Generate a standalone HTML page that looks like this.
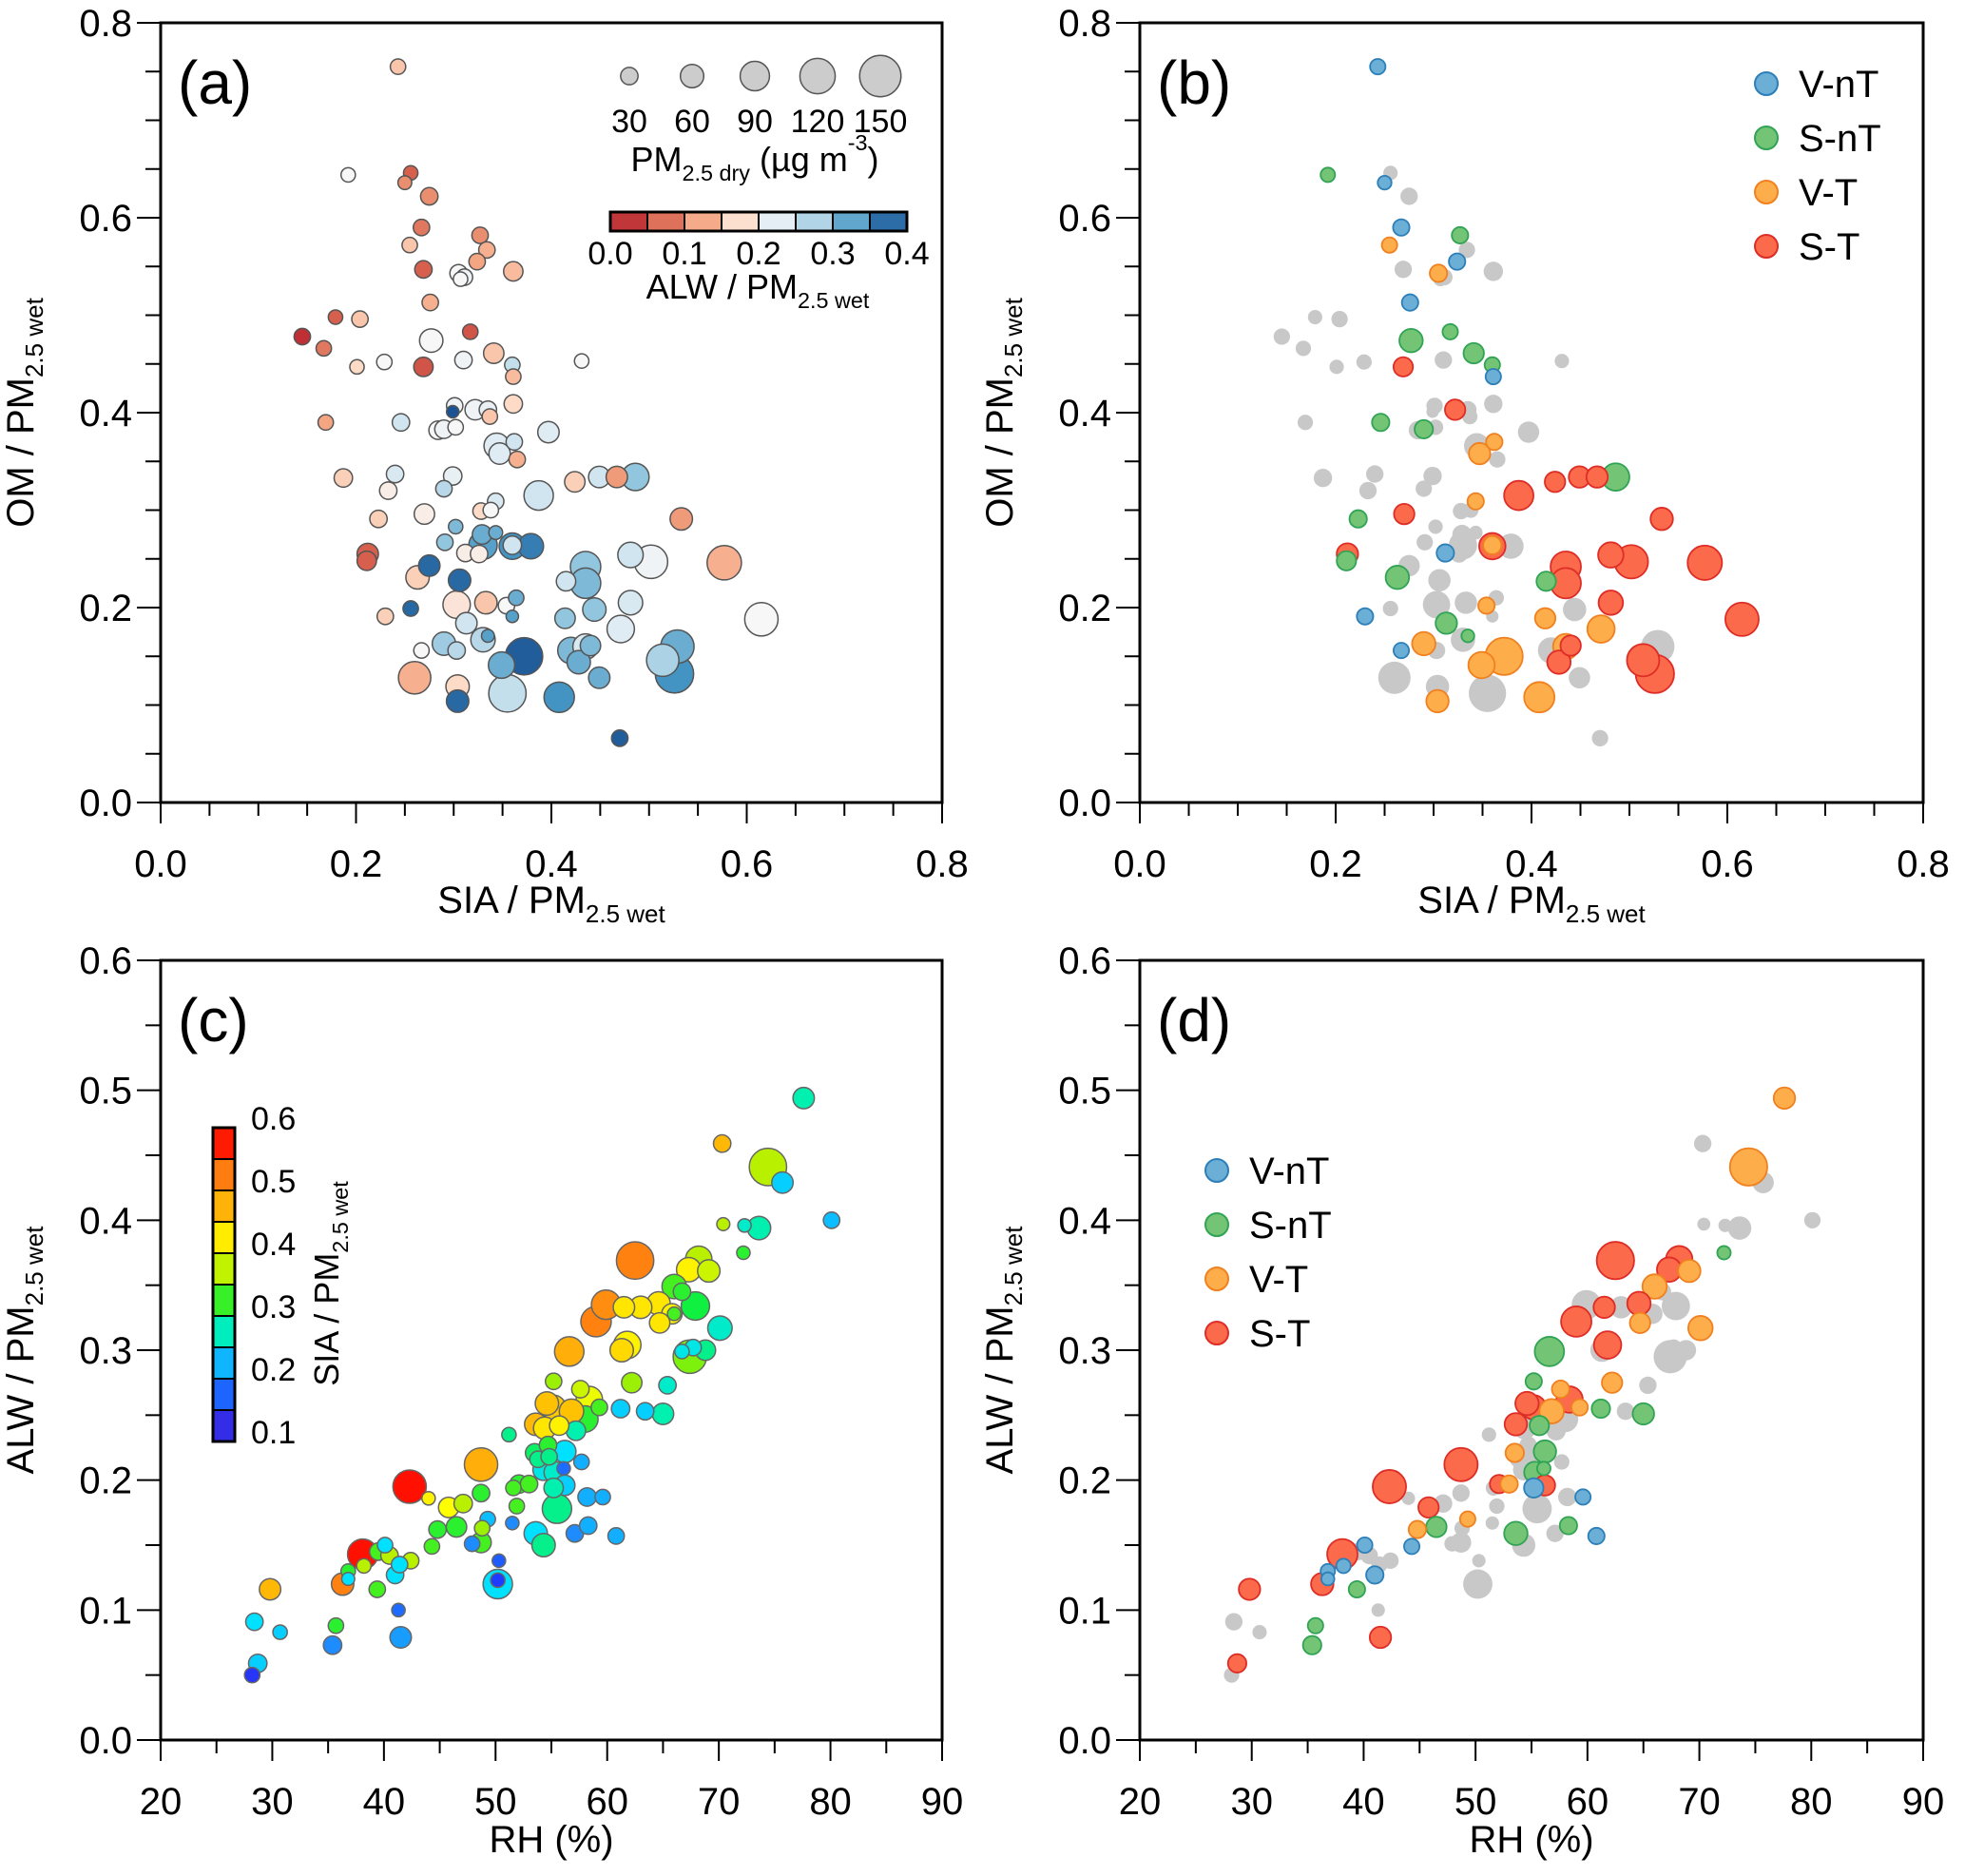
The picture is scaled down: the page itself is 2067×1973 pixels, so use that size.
<!DOCTYPE html>
<html><head><meta charset="utf-8"><style>
html,body{margin:0;padding:0;background:#fff}
svg{display:block;font-family:"Liberation Sans",Arial,sans-serif}
</style></head><body>
<svg id="fig" width="2067" height="1973" viewBox="0 0 2067 1973" xmlns="http://www.w3.org/2000/svg"></svg>
<script>
// ---- Panel a/b data: SIA, OM, PM2.5 dry, ALW fraction, category (0 other,1 V-nT,2 S-nT,3 V-T,4 S-T)
const aSIA=[.243,.192,.256,.250,.275,.267,.255,.327,.334,.324,.269,.305,.311,.307,.361,.276,.179,.204,.317,.145,.167,.277,.201,.229,.269,.310,.341,.360,.361,.431,.301,.299,.322,.335,.337,.361,.169,.246,.284,.290,.302,.397,.344,.347,.362,.365,.187,.240,.299,.290,.233,.387,.424,.449,.467,.486,.343,.328,.338,.223,.270,.533,.302,.291,.329,.343,.330,.360,.379,.360,.312,.326,.212,.211,.275,.263,.306,.481,.502,.577,.435,.435,.415,.364,.303,.333,.354,.360,.256,.230,.444,.481,.615,.414,.313,.471,.290,.330,.335,.267,.303,.372,.349,.420,.435,.440,.428,.449,.529,.514,.526,.260,.304,.304,.355,.408,.470];
const aOM=[.755,.644,.646,.636,.622,.590,.572,.582,.567,.555,.547,.543,.539,.537,.545,.513,.498,.496,.483,.478,.466,.474,.447,.452,.447,.454,.461,.449,.437,.453,.407,.401,.403,.403,.396,.409,.390,.390,.382,.383,.385,.380,.366,.358,.370,.352,.333,.337,.335,.322,.320,.315,.329,.334,.334,.334,.309,.299,.300,.291,.296,.291,.283,.267,.275,.277,.264,.263,.263,.264,.256,.255,.255,.248,.243,.231,.228,.254,.247,.246,.242,.225,.227,.210,.203,.205,.202,.191,.199,.191,.198,.205,.188,.189,.184,.178,.163,.167,.171,.156,.156,.150,.141,.156,.160,.161,.144,.128,.160,.146,.132,.128,.119,.104,.112,.108,.066];
const aPM=[20,15,15,12,30,25,20,25,25,25,30,30,25,15,40,25,15,25,20,25,20,60,15,20,40,30,45,20,20,15,25,5,45,30,20,35,20,30,35,35,20,50,70,50,25,25,35,30,35,25,30,90,45,50,50,80,25,25,20,30,45,55,15,25,40,12,85,75,70,35,30,30,50,40,50,60,55,70,110,115,95,95,40,20,80,55,25,5,20,25,60,65,110,45,50,80,60,65,7,20,30,130,75,75,70,45,60,50,110,105,135,105,60,55,130,95,25];
const aALW=[.15,.2,.06,.1,.1,.08,.15,.1,.13,.12,.06,.2,.21,.2,.14,.13,.06,.15,.05,.02,.08,.2,.17,.2,.05,.21,.15,.26,.14,.2,.21,.4,.21,.22,.15,.17,.12,.25,.2,.21,.2,.23,.23,.23,.25,.13,.16,.24,.22,.27,.19,.25,.16,.25,.11,.3,.24,.17,.2,.16,.19,.11,.31,.3,.32,.32,.33,.34,.36,.25,.19,.19,.06,.06,.38,.16,.38,.25,.21,.13,.3,.31,.25,.32,.18,.15,.2,.33,.38,.16,.3,.24,.2,.3,.25,.23,.29,.27,.33,.2,.27,.39,.32,.31,.24,.31,.32,.32,.32,.28,.34,.13,.17,.38,.26,.34,.39];
const aCat=[1,2,0,1,0,1,3,2,0,1,0,3,0,0,0,1,0,0,2,0,0,2,0,0,4,0,2,2,1,0,0,0,4,0,0,0,0,2,0,2,0,0,0,3,3,0,0,0,0,0,0,4,4,4,4,2,3,0,0,2,4,4,0,0,0,0,0,4,0,3,1,0,4,2,0,2,0,4,4,4,4,4,2,0,0,0,3,0,0,1,0,4,4,3,2,3,3,0,2,1,0,3,3,0,3,4,4,0,0,4,4,0,0,3,0,3,0];
// ---- Panel c/d data: RH, ALW fraction, PM2.5 dry, SIA fraction, category
const cRH=[77.6,70.3,74.4,75.7,80.1,70.4,72.3,73.6,72.2,62.5,68.2,67.3,69.1,66.0,66.7,67.9,59.9,59.0,61.5,63.0,64.6,65.8,66.0,64.7,70.1,61.8,61.3,56.6,67.4,68.8,67.7,66.7,62.2,55.2,65.4,57.6,58.4,54.6,55.2,56.8,59.3,61.2,63.4,65.0,58.0,57.2,53.6,54.4,55.7,51.2,56.2,54.7,53.5,53.8,54.8,48.7,42.3,54.3,55.3,56.1,57.7,56.2,55.2,55.5,52.1,53.0,51.6,51.9,58.2,59.6,48.7,44.0,45.8,47.1,46.5,44.8,49.3,48.8,48.7,47.9,51.5,53.6,54.3,57.1,58.3,60.8,44.3,40.1,39.5,38.1,40.5,42.4,41.4,38.2,36.8,36.8,41.0,50.3,50.2,50.2,36.3,39.4,29.8,41.3,28.4,30.7,35.7,35.4,41.5,28.7,28.2];
const cALW=[.494,.459,.441,.429,.400,.397,.396,.394,.375,.369,.370,.362,.361,.349,.345,.334,.335,.322,.333,.333,.336,.328,.328,.321,.317,.304,.300,.299,.295,.300,.302,.299,.275,.276,.273,.270,.262,.259,.256,.253,.256,.255,.253,.251,.247,.238,.243,.240,.242,.235,.222,.227,.221,.216,.218,.212,.195,.208,.206,.209,.214,.196,.194,.178,.197,.197,.194,.180,.187,.187,.190,.186,.179,.182,.164,.162,.170,.163,.152,.151,.167,.159,.150,.159,.165,.157,.149,.150,.145,.143,.142,.138,.135,.134,.130,.124,.127,.138,.120,.123,.120,.116,.116,.100,.091,.083,.088,.073,.079,.059,.050];
const cPM=[50,30,130,50,25,8,10,60,10,130,75,65,55,65,30,85,90,95,50,55,60,45,10,45,65,80,60,90,110,45,25,15,45,25,30,30,75,60,65,65,25,35,30,50,75,40,55,55,40,15,55,30,35,25,25,110,110,50,50,10,20,45,40,90,35,30,20,20,35,20,30,10,45,35,45,30,20,20,45,20,10,60,60,30,30,25,20,20,30,95,30,25,25,15,15,8,30,10,90,15,55,25,50,10,30,15,20,35,50,35,20];
const cSIA=[.28,.47,.37,.24,.23,.37,.27,.28,.32,.52,.37,.42,.38,.33,.32,.31,.51,.52,.43,.43,.43,.42,.33,.43,.27,.42,.44,.48,.35,.29,.26,.26,.36,.36,.27,.38,.40,.46,.45,.46,.33,.24,.24,.28,.32,.28,.47,.43,.42,.29,.25,.32,.30,.29,.29,.48,.58,.26,.27,.18,.22,.24,.28,.29,.32,.33,.33,.33,.22,.22,.32,.42,.41,.37,.32,.32,.23,.36,.33,.20,.20,.25,.29,.20,.22,.22,.33,.25,.33,.58,.37,.37,.25,.37,.32,.25,.25,.17,.25,.15,.52,.33,.47,.18,.25,.24,.32,.20,.21,.24,.14];
const cCat=[3,0,3,0,0,0,0,0,2,4,4,4,3,3,0,0,0,4,4,0,4,0,0,3,3,4,0,2,0,0,0,0,3,2,0,3,4,4,4,3,3,2,0,2,0,0,4,0,2,0,2,0,3,0,0,4,4,0,2,2,0,4,1,0,4,3,0,0,0,1,0,0,4,0,2,3,3,0,0,0,0,2,0,0,2,1,1,1,0,4,0,0,0,1,1,1,1,0,0,0,4,2,4,0,0,0,2,2,4,4,0];
// ---- tick labels / legend values
const xTicksAB=["0.0","0.2","0.4","0.6","0.8"];
const yTicksAB=["0.0","0.2","0.4","0.6","0.8"];
const xTicksCD=["20","30","40","50","60","70","80","90"];
const yTicksCD=["0.0","0.1","0.2","0.3","0.4","0.5","0.6"];
const sizeLegend=[30,60,90,120,150];
const catNames=["V-nT","S-nT","V-T","S-T"];

const NS="http://www.w3.org/2000/svg";
const svg=document.getElementById('fig');
function mk(tag,attrs,parent){const e=document.createElementNS(NS,tag);for(const k in attrs)e.setAttribute(k,attrs[k]);(parent||svg).appendChild(e);return e;}
function hex(h){return [parseInt(h.substr(1,2),16),parseInt(h.substr(3,2),16),parseInt(h.substr(5,2),16)];}
function interp(stops,v){if(v<=stops[0][0])return stops[0][1];for(let i=1;i<stops.length;i++){if(v<=stops[i][0]){const t=(v-stops[i-1][0])/(stops[i][0]-stops[i-1][0]);const a=hex(stops[i-1][1]),b=hex(stops[i][1]);return 'rgb('+a.map((c,j)=>Math.round(c+(b[j]-c)*t)).join(',')+')';}}return stops[stops.length-1][1];}
const rdbu=[[0,'#b2182b'],[0.06,'#d6604d'],[0.12,'#f4a582'],[0.17,'#fddbc7'],[0.2,'#f7f7f7'],[0.25,'#d1e5f0'],[0.3,'#92c5de'],[0.34,'#4393c3'],[0.4,'#1b5293']];
const jet=[[0.1,'#4a1fd0'],[0.15,'#1e3cff'],[0.2,'#1e8cff'],[0.25,'#00e0ff'],[0.28,'#00f0b0'],[0.31,'#10f040'],[0.34,'#60f010'],[0.37,'#b8f000'],[0.41,'#ffff00'],[0.45,'#ffcc00'],[0.5,'#ff9a10'],[0.54,'#ff6a10'],[0.58,'#ff1000']];
const catFill=['#c8c8c8','#6baed6','#74c476','#fdae4b','#fb6a4a'];
const catStroke=['none','#2c7fb8','#31a354','#f08020','#de2d26'];
function rad(v){return 6+0.105*v;}

function lin(d0,d1,p0,p1){return v=>p0+(v-d0)/(d1-d0)*(p1-p0);}

function axes(P){
  const g=mk('g',{});  
  mk('rect',{x:P.x0,y:P.y0,width:P.x1-P.x0,height:P.y1-P.y0,fill:'none',stroke:'#000','stroke-width':3},g);
  for(let v=P.xd[0];v<=P.xd[1]+1e-9;v+=P.xminor){
    const X=P.sx(v);const maj=Math.abs(((v-P.xd[0])/P.xmajor)-Math.round((v-P.xd[0])/P.xmajor))<1e-6;
    mk('line',{x1:X,x2:X,y1:P.y1,y2:P.y1+(maj?22:14),stroke:'#000','stroke-width':2},g);
  }
  for(let v=P.yd[0];v<=P.yd[1]+1e-9;v+=P.yminor){
    const Y=P.sy(v);const maj=Math.abs(((v-P.yd[0])/P.ymajor)-Math.round((v-P.yd[0])/P.ymajor))<1e-6;
    mk('line',{x1:P.x0,x2:P.x0-(maj?25:16),y1:Y,y2:Y,stroke:'#000','stroke-width':2},g);
  }
  P.xt.forEach((t,i)=>{const v=P.xd[0]+i*P.xmajor;const e=mk('text',{x:P.sx(v),y:P.y1+78,'font-size':40,'text-anchor':'middle'},g);e.textContent=t;});
  P.yt.forEach((t,i)=>{const v=P.yd[0]+i*P.ymajor;const e=mk('text',{x:P.x0-30,y:P.sy(v)+14,'font-size':40,'text-anchor':'end'},g);e.textContent=t;});
  const xt=mk('text',{x:(P.x0+P.x1)/2,y:P.y1+P.xtoff,'font-size':40,'text-anchor':'middle'},g);
  
  sub(xt,P.xtitle);
  const cy=(P.y0+P.y1)/2;
  const yt=mk('text',{x:0,y:0,'font-size':40,'text-anchor':'middle',transform:'translate('+(P.x0-134)+','+cy+') rotate(-90)'},g);
  
  sub(yt,P.ytitle);
  const lb=mk('text',{x:P.x0+18,y:P.y0+85,'font-size':64},g);lb.textContent=P.label;
  
}
function sub(el,parts){
  const a=mk('tspan',{},el);a.textContent=parts[0];
  if(parts[1]){const b=mk('tspan',{'font-size':'0.65em',dy:10},el);b.textContent=parts[1];}
  if(parts[2]){const c=mk('tspan',{dy:-10},el);c.textContent=parts[2];}
}

const PA={name:'panel-a',x0:169,x1:991,y0:24,y1:844,xd:[0,0.8],yd:[0,0.8],xmajor:0.2,xminor:0.05,ymajor:0.2,yminor:0.05,xt:xTicksAB,yt:yTicksAB,xtitle:['SIA / PM','2.5 wet'],ytitle:['OM / PM','2.5 wet'],label:'(a)',xtoff:116};
const PB=Object.assign({},PA,{name:'panel-b',x0:1199,x1:2023,label:'(b)'});
const PC={name:'panel-c',x0:169,x1:991,y0:1010,y1:1830,xd:[20,90],yd:[0,0.6],xmajor:10,xminor:5,ymajor:0.1,yminor:0.05,xt:xTicksCD,yt:yTicksCD,xtitle:['RH (%)'],ytitle:['ALW / PM','2.5 wet'],label:'(c)',xtoff:118};
const PD=Object.assign({},PC,{name:'panel-d',x0:1199,x1:2023,label:'(d)'});
[PA,PB,PC,PD].forEach(P=>{P.sx=lin(P.xd[0],P.xd[1],P.x0,P.x1);P.sy=lin(P.yd[0],P.yd[1],P.y1,P.y0);});

function order(sz,cat,catFirst){const idx=sz.map((_,i)=>i);idx.sort((a,b)=>{if(catFirst){const ca=cat[a]>0?1:0,cb=cat[b]>0?1:0;if(ca!==cb)return ca-cb;}return sz[b]-sz[a];});return idx;}

let g=mk('g',{});
order(aPM,aCat,false).forEach(i=>{const c=mk('circle',{cx:PA.sx(aSIA[i]),cy:PA.sy(aOM[i]),r:rad(aPM[i]),fill:interp(rdbu,aALW[i]),stroke:'#555','stroke-width':1.5},g);
});
g=mk('g',{});
order(aPM,aCat,true).forEach(i=>{const k=aCat[i];const c=mk('circle',{cx:PB.sx(aSIA[i]),cy:PB.sy(aOM[i]),r:rad(aPM[i]),fill:catFill[k],stroke:catStroke[k],'stroke-width':1.8},g);
});
g=mk('g',{});
order(cPM,cCat,false).forEach(i=>{const c=mk('circle',{cx:PC.sx(cRH[i]),cy:PC.sy(cALW[i]),r:rad(cPM[i]),fill:interp(jet,cSIA[i]),stroke:'#666','stroke-width':1.5},g);
});
g=mk('g',{});
order(cPM,cCat,true).forEach(i=>{const k=cCat[i];const c=mk('circle',{cx:PD.sx(cRH[i]),cy:PD.sy(cALW[i]),r:rad(cPM[i]),fill:catFill[k],stroke:catStroke[k],'stroke-width':1.8},g);
});

[PA,PB,PC,PD].forEach(axes);

// Size legend (a)
g=mk('g',{});
sizeLegend.forEach((v,i)=>{const X=662+i*66;const c=mk('circle',{cx:X,cy:80,r:rad(v),fill:'#cccccc',stroke:'#555','stroke-width':1.5},g);

const t=mk('text',{x:X,y:139,'font-size':34,'text-anchor':'middle'},g);t.textContent=String(v);});
let t=mk('text',{x:794,y:180,'font-size':36,'text-anchor':'middle'},g);sub(t,['PM','2.5 dry',' (\u00b5g m']);
let sup=mk('tspan',{'font-size':'0.65em',dy:-22},t);sup.textContent='-3';let cl=mk('tspan',{dy:22},t);cl.textContent=')';
// ALW colorbar (a)
g=mk('g',{});
for(let s=0;s<8;s++){const x=642+s*39;mk('rect',{x:x,y:223,width:39,height:20,fill:interp(rdbu,s*0.05+0.025),stroke:'#000','stroke-width':2},g);}
mk('rect',{x:642,y:223,width:312,height:20,fill:'none',stroke:'#000','stroke-width':3},g);
["0.0","0.1","0.2","0.3","0.4"].forEach((s,i)=>{const e=mk('text',{x:642+i*78,y:278,'font-size':34,'text-anchor':'middle'},g);e.textContent=s;});
t=mk('text',{x:797,y:314,'font-size':36,'text-anchor':'middle'},g);sub(t,['ALW / PM','2.5 wet']);
// SIA colorbar (c)
g=mk('g',{});
for(let s=0;s<10;s++){const y=1186+s*33;mk('rect',{x:224,y:y,width:23,height:33,fill:interp(jet,0.6-s*0.05-0.025),stroke:'#000','stroke-width':2},g);}
mk('rect',{x:224,y:1186,width:23,height:330,fill:'none',stroke:'#000','stroke-width':3},g);
["0.6","0.5","0.4","0.3","0.2","0.1"].forEach((s,i)=>{const e=mk('text',{x:264,y:1188+i*66,'font-size':34},g);e.textContent=s;});
t=mk('text',{x:0,y:0,'font-size':36,'text-anchor':'middle',transform:'translate(356,1350) rotate(-90)'},g);sub(t,['SIA / PM','2.5 wet']);
// Category legends (b, d)
function catLegend(x,y0,name){const g=mk('g',{});
catNames.forEach((n,i)=>{const y=y0+i*57;const c=mk('circle',{cx:x,cy:y,r:12,fill:catFill[i+1],stroke:catStroke[i+1],'stroke-width':2},g);

const e=mk('text',{x:x+34,y:y+14,'font-size':40},g);e.textContent=n;});}
catLegend(1858,88,'legend-b');
catLegend(1280,1231,'legend-d');
</script>
</body></html>
